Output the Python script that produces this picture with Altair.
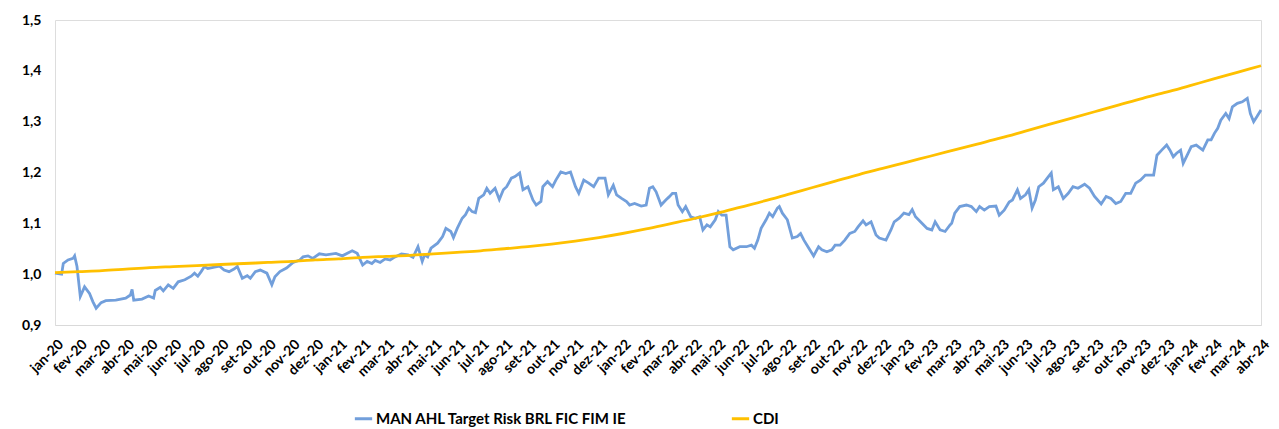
import json
import altair as alt
import pandas as pd

# ---- data ----
month_names = ["jan", "fev", "mar", "abr", "mai", "jun", "jul", "ago", "set", "out", "nov", "dez"]
month_labels = [f"{month_names[i % 12]}-{20 + i // 12}" for i in range(52)]  # jan-20 ... abr-24

# MAN AHL: time in months since jan-20, value
man_t = [0.00, 0.28, 0.35, 0.55, 0.76, 0.83, 0.93, 1.07, 1.25, 1.46, 1.60, 1.74, 1.95, 2.15, 2.57, 2.99,
         3.19, 3.26, 3.33, 3.68, 3.96, 4.17, 4.24, 4.45, 4.58, 4.79, 5.00, 5.21, 5.49, 5.76, 5.90, 6.04,
         6.18, 6.32, 6.46, 6.74, 6.95, 7.15, 7.36, 7.57, 7.71, 7.92, 8.13, 8.26, 8.47, 8.68, 8.96, 9.17,
         9.30, 9.51, 9.79, 10.07, 10.35, 10.49, 10.70, 10.90, 11.18, 11.46, 11.88, 12.15, 12.57, 12.78,
         13.01, 13.20, 13.40, 13.54, 13.75, 13.96, 14.17, 14.38, 14.65, 14.93, 15.14, 15.35, 15.53, 15.63,
         15.76, 15.90, 16.18, 16.39, 16.53, 16.74, 16.85, 17.01, 17.22, 17.36, 17.50, 17.64, 17.78, 17.92,
         18.13, 18.26, 18.40, 18.61, 18.79, 18.96, 19.10, 19.30, 19.45, 19.65, 19.79, 20.00, 20.21, 20.35,
         20.55, 20.63, 20.83, 21.04, 21.18, 21.39, 21.60, 21.80, 22.01, 22.15, 22.36, 22.57, 22.78, 22.99,
         23.26, 23.40, 23.61, 23.75, 23.96, 24.17, 24.30, 24.51, 24.79, 25.00, 25.14, 25.28, 25.42, 25.63,
         25.83, 25.97, 26.11, 26.25, 26.35, 26.53, 26.67, 26.88, 27.08, 27.26, 27.40, 27.57, 27.71, 27.92,
         28.05, 28.20, 28.38, 28.54, 28.68, 28.96, 29.24, 29.45, 29.58, 29.72, 29.86, 30.07, 30.21, 30.35,
         30.55, 30.63, 30.76, 30.97, 31.18, 31.39, 31.53, 31.67, 31.88, 32.08, 32.29, 32.43, 32.64, 32.85,
         32.99, 33.20, 33.40, 33.61, 33.82, 33.96, 34.17, 34.30, 34.51, 34.72, 34.86, 35.14, 35.35, 35.49,
         35.70, 35.90, 36.11, 36.25, 36.39, 36.60, 36.88, 37.08, 37.22, 37.43, 37.64, 37.85, 37.92, 38.05,
         38.26, 38.54, 38.75, 38.96, 39.10, 39.30, 39.51, 39.79, 39.93, 40.14, 40.35, 40.49, 40.70, 40.83,
         41.04, 41.18, 41.32, 41.46, 41.60, 41.80, 42.01, 42.13, 42.22, 42.43, 42.64, 42.85, 43.05, 43.26,
         43.54, 43.75, 43.96, 44.24, 44.45, 44.65, 44.86, 45.07, 45.28, 45.49, 45.70, 45.90, 46.11, 46.32,
         46.46, 46.60, 46.80, 47.01, 47.15, 47.29, 47.43, 47.60, 47.71, 47.92, 48.05, 48.26, 48.54, 48.75,
         48.89, 49.03, 49.17, 49.30, 49.51, 49.65, 49.79, 50.00, 50.21, 50.42, 50.55, 50.69, 50.83, 51.00]
man_v = [1.002, 1.000, 1.021, 1.028, 1.031, 1.036, 1.015, 0.956, 0.975, 0.962, 0.946, 0.933, 0.944, 0.948, 0.949, 0.953,
         0.959, 0.970, 0.949, 0.951, 0.957, 0.953, 0.968, 0.974, 0.967, 0.979, 0.972, 0.985, 0.989, 0.996, 1.002, 0.996,
         1.005, 1.015, 1.011, 1.014, 1.016, 1.008, 1.005, 1.010, 1.015, 0.992, 0.997, 0.992, 1.005, 1.008, 1.002, 0.979,
         0.995, 1.005, 1.012, 1.023, 1.028, 1.034, 1.036, 1.031, 1.040, 1.038, 1.041, 1.036, 1.046, 1.041,
         1.018, 1.025, 1.021, 1.027, 1.023, 1.030, 1.028, 1.034, 1.040, 1.038, 1.033, 1.054, 1.025, 1.038,
         1.034, 1.051, 1.061, 1.074, 1.090, 1.084, 1.072, 1.090, 1.110, 1.117, 1.130, 1.123, 1.121, 1.149,
         1.156, 1.169, 1.159, 1.169, 1.147, 1.166, 1.172, 1.189, 1.192, 1.199, 1.166, 1.172, 1.146, 1.136,
         1.143, 1.172, 1.182, 1.172, 1.185, 1.201, 1.198, 1.201, 1.172, 1.159, 1.185, 1.179, 1.172, 1.189,
         1.189, 1.156, 1.175, 1.156, 1.149, 1.143, 1.136, 1.139, 1.134, 1.136, 1.169, 1.172, 1.162, 1.136,
         1.146, 1.152, 1.159, 1.159, 1.136, 1.123, 1.133, 1.113, 1.110, 1.113, 1.087, 1.097, 1.093, 1.107,
         1.123, 1.116, 1.116, 1.054, 1.048, 1.054, 1.054, 1.057, 1.051, 1.067, 1.090, 1.107, 1.120, 1.113,
         1.130, 1.133, 1.120, 1.107, 1.071, 1.074, 1.080, 1.067, 1.051, 1.036, 1.054, 1.048, 1.044, 1.048,
         1.057, 1.057, 1.067, 1.080, 1.084, 1.093, 1.105, 1.097, 1.103, 1.077, 1.071, 1.067, 1.087, 1.103,
         1.110, 1.120, 1.117, 1.127, 1.113, 1.103, 1.090, 1.087, 1.103, 1.087, 1.084, 1.097, 1.100, 1.120,
         1.133, 1.136, 1.133, 1.123, 1.133, 1.126, 1.133, 1.134, 1.116, 1.126, 1.142, 1.146, 1.166, 1.149,
         1.156, 1.166, 1.130, 1.146, 1.172, 1.179, 1.192, 1.199, 1.166, 1.172, 1.149, 1.159, 1.172, 1.169,
         1.177, 1.169, 1.153, 1.138, 1.153, 1.149, 1.139, 1.143, 1.159, 1.159, 1.179, 1.185, 1.195, 1.195,
         1.195, 1.234, 1.244, 1.254, 1.244, 1.231, 1.238, 1.244, 1.218, 1.238, 1.251, 1.254, 1.244, 1.264,
         1.264, 1.277, 1.287, 1.303, 1.316, 1.306, 1.329, 1.336, 1.339, 1.346, 1.316, 1.300, 1.310, 1.323]

# CDI: one value per month, jan-20 ... abr-24
cdi_t = list(range(52))
cdi_v = [1.003, 1.005, 1.007, 1.010, 1.013, 1.015, 1.017, 1.019, 1.021, 1.023, 1.025, 1.028,
         1.030, 1.033, 1.035, 1.037, 1.040, 1.043, 1.046, 1.050, 1.054, 1.059, 1.065, 1.072,
         1.080, 1.089, 1.099, 1.109, 1.120, 1.132, 1.144, 1.157, 1.170, 1.183, 1.196, 1.208,
         1.220, 1.232, 1.244, 1.256, 1.268, 1.281, 1.294, 1.307, 1.320, 1.333, 1.346, 1.358,
         1.371, 1.384, 1.397, 1.410]

y_ticks = [0.9, 1.0, 1.1, 1.2, 1.3, 1.4, 1.5]

S_MAN = "MAN AHL Target Risk BRL FIC FIM IE"
S_CDI = "CDI"
series_names = [S_MAN, S_CDI]
series_colors = ["#729FDB", "#FFC000"]

df_man = pd.DataFrame({"t": man_t, "v": man_v, "serie": S_MAN})
df_cdi = pd.DataFrame({"t": cdi_t, "v": cdi_v, "serie": S_CDI})

FONT = "Lato"

x_enc = alt.X(
    "t:Q",
    scale=alt.Scale(domain=[0, 51], nice=False, zero=False),
    axis=alt.Axis(
        values=list(range(52)),
        labelExpr=json.dumps(month_labels) + "[datum.value]",
        labelAngle=-45,
        labelAlign="right",
        labelBaseline="top",
        labelFont=FONT,
        labelFontWeight="bold",
        labelFontSize=14,
        labelColor="#000000",
        labelPadding=12,
        labelOffset=1,
        labelOverlap=False,
        labelBound=False,
        ticks=False,
        grid=False,
        domainColor="#D9D9D9",
        domainWidth=1,
        title=None,
    ),
)
y_enc = alt.Y(
    "v:Q",
    scale=alt.Scale(domain=[0.9, 1.5], nice=False, zero=False),
    axis=alt.Axis(
        values=y_ticks,
        labelExpr="replace(format(datum.value, '.1f'), '.', ',')",
        labelFont=FONT,
        labelFontWeight="bold",
        labelFontSize=14,
        labelColor="#000000",
        labelPadding=14,
        ticks=False,
        grid=False,
        domain=False,
        title=None,
    ),
)
color_enc = alt.Color(
    "serie:N",
    scale=alt.Scale(domain=series_names, range=series_colors),
    legend=alt.Legend(
        orient="none",
        legendX=298,
        legendY=388,
        direction="horizontal",
        title=None,
        symbolType="stroke",
        symbolStrokeWidth=3,
        symbolSize=300,
        labelFont=FONT,
        labelFontWeight="bold",
        labelFontSize=15,
        labelColor="#000000",
        labelLimit=400,
        labelOffset=2,
        columnPadding=97,
    ),
)

man_line = alt.Chart(df_man).mark_line(strokeWidth=2.8, interpolate="linear").encode(
    x=x_enc, y=y_enc, color=color_enc
)
cdi_line = alt.Chart(df_cdi).mark_line(strokeWidth=2.8, interpolate="monotone").encode(
    x=x_enc, y=y_enc, color=color_enc
)

chart = (
    alt.layer(man_line, cdi_line)
    .properties(
        width=1206,
        height=305,
        autosize=alt.AutoSizeParams(type="none"),
        padding={"left": 47, "top": 12, "right": 10, "bottom": 104},
    )
    .configure_view(stroke=None)
    .configure(background="#FFFFFF")
)

chart.save("out.html", embed_options={"renderer": "svg", "actions": False})
